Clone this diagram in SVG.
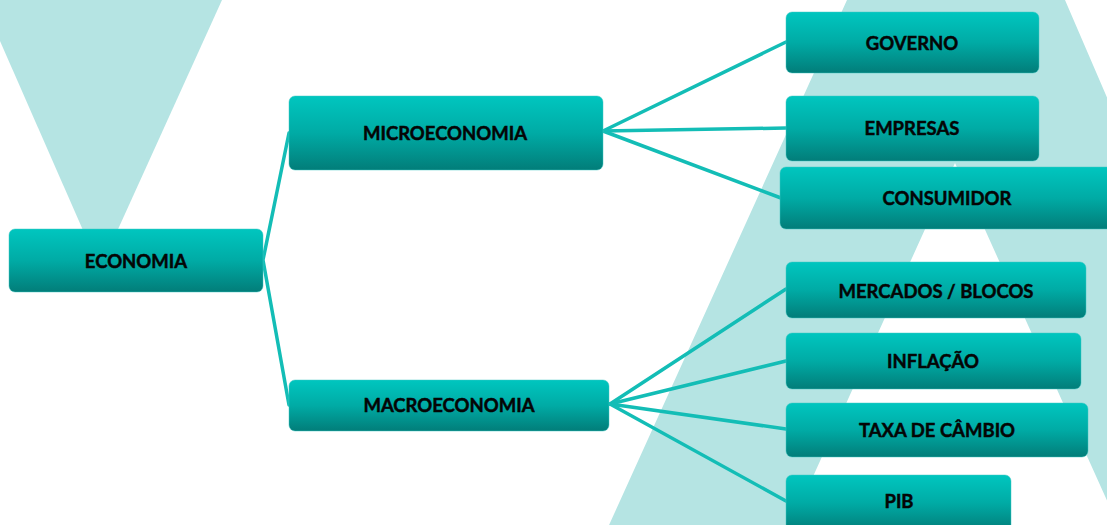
<svg xmlns="http://www.w3.org/2000/svg" width="1107" height="525" viewBox="0 0 1107 525">
  <defs>
    <linearGradient id="boxFill" x1="0" y1="0" x2="0" y2="1">
      <stop offset="0" stop-color="#00c6bf"/>
      <stop offset="0.5" stop-color="#00aba5"/>
      <stop offset="1" stop-color="#027d79"/>
    </linearGradient>
  </defs>
  <style>
    .bg { fill: #b5e4e3; }
    .box { fill: url(#boxFill); stroke: #3fc7c1; stroke-width: 0.8; stroke-opacity: 0.6; }
    .label { font-family: Lato, "Liberation Sans", sans-serif; font-weight: bold; font-size: 18.5px; fill: #050505; stroke: #050505; stroke-width: 0.45; text-anchor: middle; dominant-baseline: central; }
    .link { stroke: #13bdb6; stroke-width: 3.5; fill: none; stroke-linecap: round; }
  </style>

  <rect width="1107" height="525" fill="#ffffff"/>

  <!-- decorative background shapes -->
  <g id="background">
    <polygon class="bg" points="-18,0 222,0 100,269"/>
    <path class="bg" fill-rule="evenodd" d="M847,0 L1065,0 L1300,545 L600,545 Z M955,163 L1127,545 L782,545 Z"/>
  </g>

  <!-- connectors -->
  <g id="connectors">
    <polyline class="link" points="289,133 263,260 289,405"/>
    <line class="link" x1="603" y1="131" x2="786" y2="42"/>
    <line class="link" x1="603" y1="131" x2="786" y2="128"/>
    <line class="link" x1="603" y1="131" x2="781" y2="198"/>
    <line class="link" x1="610" y1="404" x2="786" y2="289"/>
    <line class="link" x1="610" y1="404" x2="786" y2="361"/>
    <line class="link" x1="610" y1="404" x2="786" y2="429"/>
    <line class="link" x1="610" y1="404" x2="786" y2="501"/>
  </g>

  <g id="economia">
    <rect class="box" x="9" y="229" width="254" height="63" rx="6"/>
    <text class="label" x="136" y="261">ECONOMIA</text>
  </g>
  <g id="microeconomia">
    <rect class="box" x="289" y="96" width="314" height="74" rx="6"/>
    <text class="label" x="445" y="133">MICROECONOMIA</text>
  </g>
  <g id="macroeconomia">
    <rect class="box" x="289" y="380" width="320" height="51" rx="6"/>
    <text class="label" x="449" y="405">MACROECONOMIA</text>
  </g>
  <g id="governo">
    <rect class="box" x="786" y="12" width="253" height="61" rx="6"/>
    <text class="label" x="912" y="43">GOVERNO</text>
  </g>
  <g id="empresas">
    <rect class="box" x="786" y="96" width="253" height="65" rx="6"/>
    <text class="label" x="912" y="128">EMPRESAS</text>
  </g>
  <g id="consumidor">
    <rect class="box" x="780" y="167" width="334" height="62" rx="6"/>
    <text class="label" x="947" y="198">CONSUMIDOR</text>
  </g>
  <g id="mercados-blocos">
    <rect class="box" x="786" y="262" width="300" height="56" rx="6"/>
    <text class="label" x="936" y="291">MERCADOS / BLOCOS</text>
  </g>
  <g id="inflacao">
    <rect class="box" x="786" y="333" width="295" height="56" rx="6"/>
    <text class="label" x="933" y="361">INFLAÇÃO</text>
  </g>
  <g id="taxa-de-cambio">
    <rect class="box" x="786" y="403" width="302" height="54" rx="6"/>
    <text class="label" x="937" y="430">TAXA DE CÂMBIO</text>
  </g>
  <g id="pib">
    <rect class="box" x="786" y="475" width="225" height="56" rx="6"/>
    <text class="label" x="899" y="501">PIB</text>
  </g>
</svg>
